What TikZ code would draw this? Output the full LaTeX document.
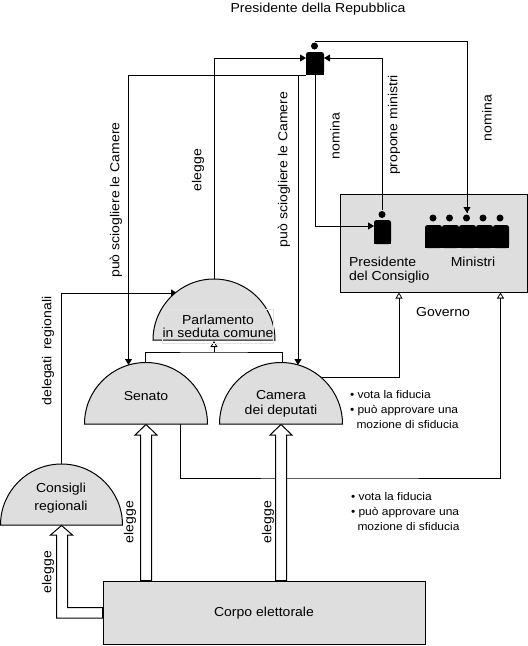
\documentclass[tikz,border=0pt]{standalone}
\usepackage{fontspec}
\setmainfont[FakeStretch=1.08]{Liberation Sans}
\usetikzlibrary{arrows.meta}
\tikzset{
  x=1pt,y=-1pt,
  every node/.style={inner sep=0pt,outer sep=0pt,font=\fontsize{13}{14}\selectfont,text=black},
  conn/.style={draw=black,line width=1pt},
  solidtip/.style={conn,-{Triangle[length=6pt,width=7pt,fill=black]}},
  opentip/.style={conn,-{Triangle[open,length=6pt,width=7pt,fill=white,line width=0.8pt]}},
  dome/.style={draw=black,line width=1pt,fill=panel},
  panelbox/.style={draw=black,line width=1pt,fill=panel},
  blockarrow/.style={draw=black,line width=1pt,fill=white},
  figbody/.style={fill=black,rounded corners=2.5pt},
  head/.style={circle,fill=black,minimum size=7pt},
  vlabel/.style={rotate=90},
  notes/.style={anchor=north west,align=left,font=\fontsize{11.1}{15}\selectfont},
}
\definecolor{panel}{HTML}{DEDEDE}
\begin{document}
\begin{tikzpicture}
\useasboundingbox (0,0) rectangle (528,646);
\fill[white] (0,0) rectangle (528,646);

% panels
\node[panelbox,minimum width=187pt,minimum height=98pt] (gov) at (433.5,243) {};
\node[panelbox,minimum width=322pt,minimum height=63pt] (corpo) at (264,612.5) {};

% coordinates
\coordinate (presL) at (306,58);
\coordinate (presR) at (324,58);
\coordinate (presB) at (315,74);
\coordinate (presT) at (315,41);
\coordinate (presLow) at (306,75);
\coordinate (pdcL) at (374,226);
\coordinate (pdcT) at (382,210);
\coordinate (minT) at (467,213);
\coordinate (parlTop) at (214,279);
\coordinate (parlEdge) at (177,293);
\coordinate (parlBase) at (214,341);
\coordinate (senTop) at (128.5,365);
\coordinate (camTop) at (298,365);
\coordinate (senJoin) at (145,364);
\coordinate (camJoin) at (282,364);
\coordinate (camEdge) at (320,377);
\coordinate (senBase) at (180,424);
\coordinate (consTop) at (61,464);
\coordinate (govA) at (399,292.5);
\coordinate (govB) at (500.5,292.5);
\coordinate (joinY) at (214,352);

% connectors
\draw[conn] (presT) -- (315,41) -| (minT);
\draw[solidtip] (467,205) -- (minT);
\draw[solidtip] (pdcT) |- (presR);
\draw[solidtip] (presB) |- (pdcL);
\draw[solidtip] (parlTop) |- (presL);
\draw[solidtip] (presLow) -| (senTop);
\draw[solidtip] (presLow) -| (camTop);
\draw[solidtip] (consTop) |- (parlEdge);
\draw[conn] (senJoin) |- (joinY) -| (camJoin);
\draw[opentip] (joinY) -- (parlBase);
\draw[opentip] (camEdge) -| (govA);
\draw[opentip] (senBase) |- (339,478) -| (govB);

% domes
\draw[dome] (153,340) arc[start angle=180,end angle=360,radius=61] -- cycle;
\draw[dome] (84.5,424) arc[start angle=180,end angle=360,radius=61.5] -- cycle;
\draw[dome] (219.5,424) arc[start angle=180,end angle=360,radius=61.5] -- cycle;
\draw[dome] (0.5,525) arc[start angle=180,end angle=360,radius=61] -- cycle;

% block arrows
\draw[blockarrow] (140.5,581) -- (140.5,435) -- (135,435) -- (146,424.5) -- (157,435) -- (151.5,435) -- (151.5,581);
\draw[blockarrow] (275.5,581) -- (275.5,435) -- (270,435) -- (281,424.5) -- (292,435) -- (286.5,435) -- (286.5,581);
\draw[blockarrow] (103,618) -- (56.5,618) -- (56.5,535) -- (50.5,535) -- (61.5,525.5) -- (72.5,535) -- (67.5,535) -- (67.5,607.5) -- (103,607.5);
\draw[line width=1.5pt] (103,608) -- (103,618);
\draw[line width=1.5pt] (141,581) -- (151,581);
\draw[line width=1.5pt] (276,581) -- (286,581);

% figures
\fill[figbody] (306,74) -- (306,52) -- (324,52) -- (324,74) -- cycle;
\fill[black] (306,66) rectangle (324,75);
\node[head] (presHead) at (314.5,46) {};
\fill[figbody] (374,244) -- (374,220) -- (391,220) -- (391,244) -- cycle;
\fill[black] (374,236) rectangle (391,244);
\node[head] (pdcHead) at (382,214.5) {};
\foreach \i/\a/\b in {1/425/442,2/442/459,3/459/476,4/476/493,5/493/509}{
  \fill[figbody] (\a,248) -- (\a,225) -- (\b,225) -- (\b,248) -- cycle;
}
\fill[black] (425,233) rectangle (509,248);
\foreach \n/\c in {a/433,b/449.5,c/466.5,d/483,e/500}{
  \node[head] (min\n) at (\c,218) {};
}

% texts
\node (tPres) at (318,9) {Presidente della Repubblica};
\node[vlabel] (t1) at (116,200) {può sciogliere le Camere};
\node[vlabel] (t2) at (284,169.5) {può sciogliere le Camere};
\node[vlabel] (t3) at (198,170) {elegge};
\node[vlabel] (t4) at (335,136) {nomina};
\node[vlabel] (t5) at (394,125) {propone ministri};
\node[vlabel] (t6) at (487,118) {nomina};
\node[vlabel] (t7) at (48,351) {delegati\hspace{0.5em}regionali};
\node[vlabel] (t8) at (48,572) {elegge};
\node[vlabel] (t9) at (130,522) {elegge};
\node[vlabel] (t10) at (268,522) {elegge};
\node[align=left,anchor=north west,font=\fontsize{13}{14}\selectfont] (tPdc) at (349,257) {Presidente\\del Consiglio};
\node (tMin) at (473,262) {Ministri};
\node (tGov) at (443,312) {Governo};
\node[draw=gray!22,line width=0.5pt,minimum width=110pt,minimum height=34pt,align=center,font=\fontsize{13}{12.5}\selectfont] (tParl) at (218,326.5) {Parlamento\\in seduta comune};
\node (tSen) at (146,396) {Senato};
\node[align=center,font=\fontsize{13}{14.5}\selectfont] (tCam) at (281,404) {Camera\\dei deputati};
\node[align=center,font=\fontsize{13}{18}\selectfont] (tCons) at (61,498) {Consigli\\regionali};
\node (tCorpo) at (264,613) {Corpo elettorale};
\node[notes] (tF1) at (350,390) {• vota la fiducia\\• può approvare una\\\hspace*{6.5pt}mozione di sfiducia};
\node[notes] (tF2) at (351,492.5) {• vota la fiducia\\• può approvare una\\\hspace*{6.5pt}mozione di sfiducia};
\end{tikzpicture}
\end{document}
